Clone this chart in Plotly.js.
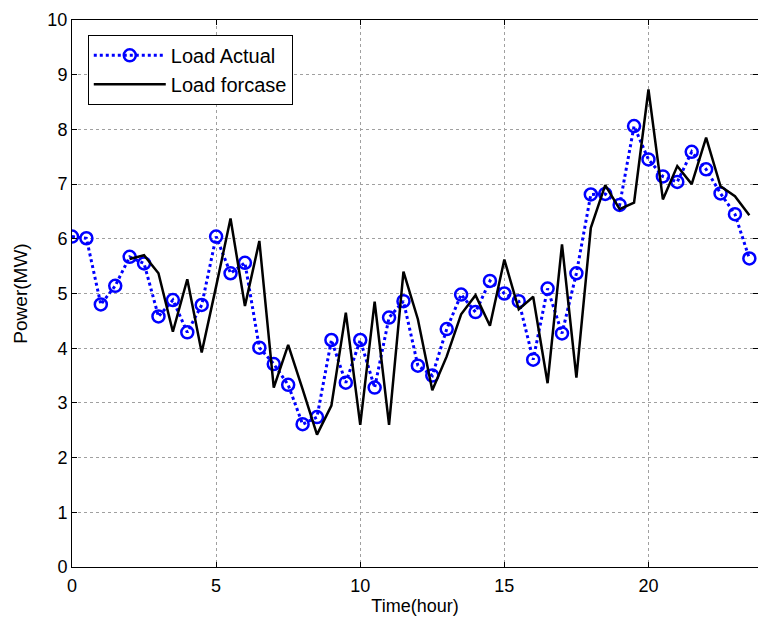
<!DOCTYPE html>
<html>
<head>
<meta charset="utf-8">
<script src="https://cdn.plot.ly/plotly-3.0.1.min.js"></script>
<style>
html,body{margin:0;padding:0;background:#fff;}
#chart{width:758px;height:622px;}
</style>
</head>
<body>
<div id="chart"></div>
<script>
const hoursActual = [0,0.5,1,1.5,2,2.5,3,3.5,4,4.5,5,5.5,6,6.5,7,7.5,8,8.5,9,9.5,10,10.5,11,11.5,12,12.5,13,13.5,14,14.5,15,15.5,16,16.5,17,17.5,18,18.5,19,19.5,20,20.5,21,21.5,22,22.5,23,23.5];
const loadActual = [6.04,6.01,4.80,5.14,5.67,5.55,4.58,4.88,4.29,4.79,6.04,5.37,5.56,4.01,3.71,3.33,2.61,2.74,4.15,3.37,4.15,3.28,4.56,4.86,3.68,3.50,4.35,4.98,4.66,5.23,5.00,4.86,3.79,5.09,4.27,5.37,6.81,6.82,6.62,8.06,7.45,7.14,7.04,7.59,7.27,6.83,6.45,5.64];

const hoursForecast = [2,2.5,3,3.5,4,4.5,5,5.5,6,6.5,7,7.5,8,8.5,9,9.5,10,10.5,11,11.5,12,12.5,13,13.5,14,14.5,15,15.5,16,16.5,17,17.5,18,18.5,19,19.5,20,20.5,21,21.5,22,22.5,23,23.5];
const loadForecast = [5.63,5.70,5.37,4.30,5.26,3.92,5.13,6.37,4.77,5.96,3.28,4.06,3.25,2.42,2.95,4.65,2.60,4.85,2.60,5.40,4.53,3.23,3.85,4.62,4.97,4.41,5.62,4.71,4.94,3.36,5.90,3.46,6.20,6.98,6.54,6.66,8.73,6.72,7.33,7.00,7.85,6.96,6.78,6.43];

const xTicks = [0,5,10,15,20];
const yTicks = [0,1,2,3,4,5,6,7,8,9,10];
const seriesNames = ['Load Actual','Load forcase'];

const fontFam = 'Liberation Sans, Arial, sans-serif';

const traces = [
  {
    x: hoursActual, y: loadActual, name: seriesNames[0],
    type: 'scatter', mode: 'lines+markers',
    line: {color: '#0000ff', width: 3, dash: 'dot'},
    marker: {symbol: 'circle-open', size: 12, color: '#0000ff', line: {width: 2.5, color: '#0000ff'}}
  },
  {
    x: hoursForecast, y: loadForecast, name: seriesNames[1],
    type: 'scatter', mode: 'lines',
    line: {color: '#000000', width: 2.5}
  }
];

const axisCommon = {
  showline: true, linecolor: '#000', linewidth: 1, mirror: 'ticks',
  ticks: 'inside', ticklen: 5, tickcolor: '#000',
  showgrid: true, gridcolor: '#a0a0a0', griddash: 'dot', gridwidth: 1,
  zeroline: false,
  tickfont: {family: fontFam, size: 18, color: '#000'}
};

const layout = {
  width: 758, height: 622,
  margin: {l: 72, r: 0, t: 20, b: 55},
  paper_bgcolor: '#fff', plot_bgcolor: '#fff',
  showlegend: true,
  legend: {
    x: 0.023, y: 0.973, xanchor: 'left', yanchor: 'top',
    bgcolor: '#fff', bordercolor: '#000', borderwidth: 1,
    font: {family: fontFam, size: 20, color: '#000'},
    tracegroupgap: 0, itemwidth: 72
  },
  xaxis: Object.assign({}, axisCommon, {
    range: [0, 23.8], tickvals: xTicks, ticktext: xTicks.map(String),
    ticklabelstandoff: 2,
    title: {text: 'Time(hour)', font: {family: fontFam, size: 18, color: '#000'}, standoff: 4}
  }),
  yaxis: Object.assign({}, axisCommon, {
    range: [0, 10], tickvals: yTicks, ticktext: yTicks.map(String),
    title: {text: 'Power(MW)', font: {family: fontFam, size: 19, color: '#000'}, standoff: 14}
  })
};

Plotly.newPlot('chart', traces, layout, {displayModeBar: false, staticPlot: true});
</script>
</body>
</html>
